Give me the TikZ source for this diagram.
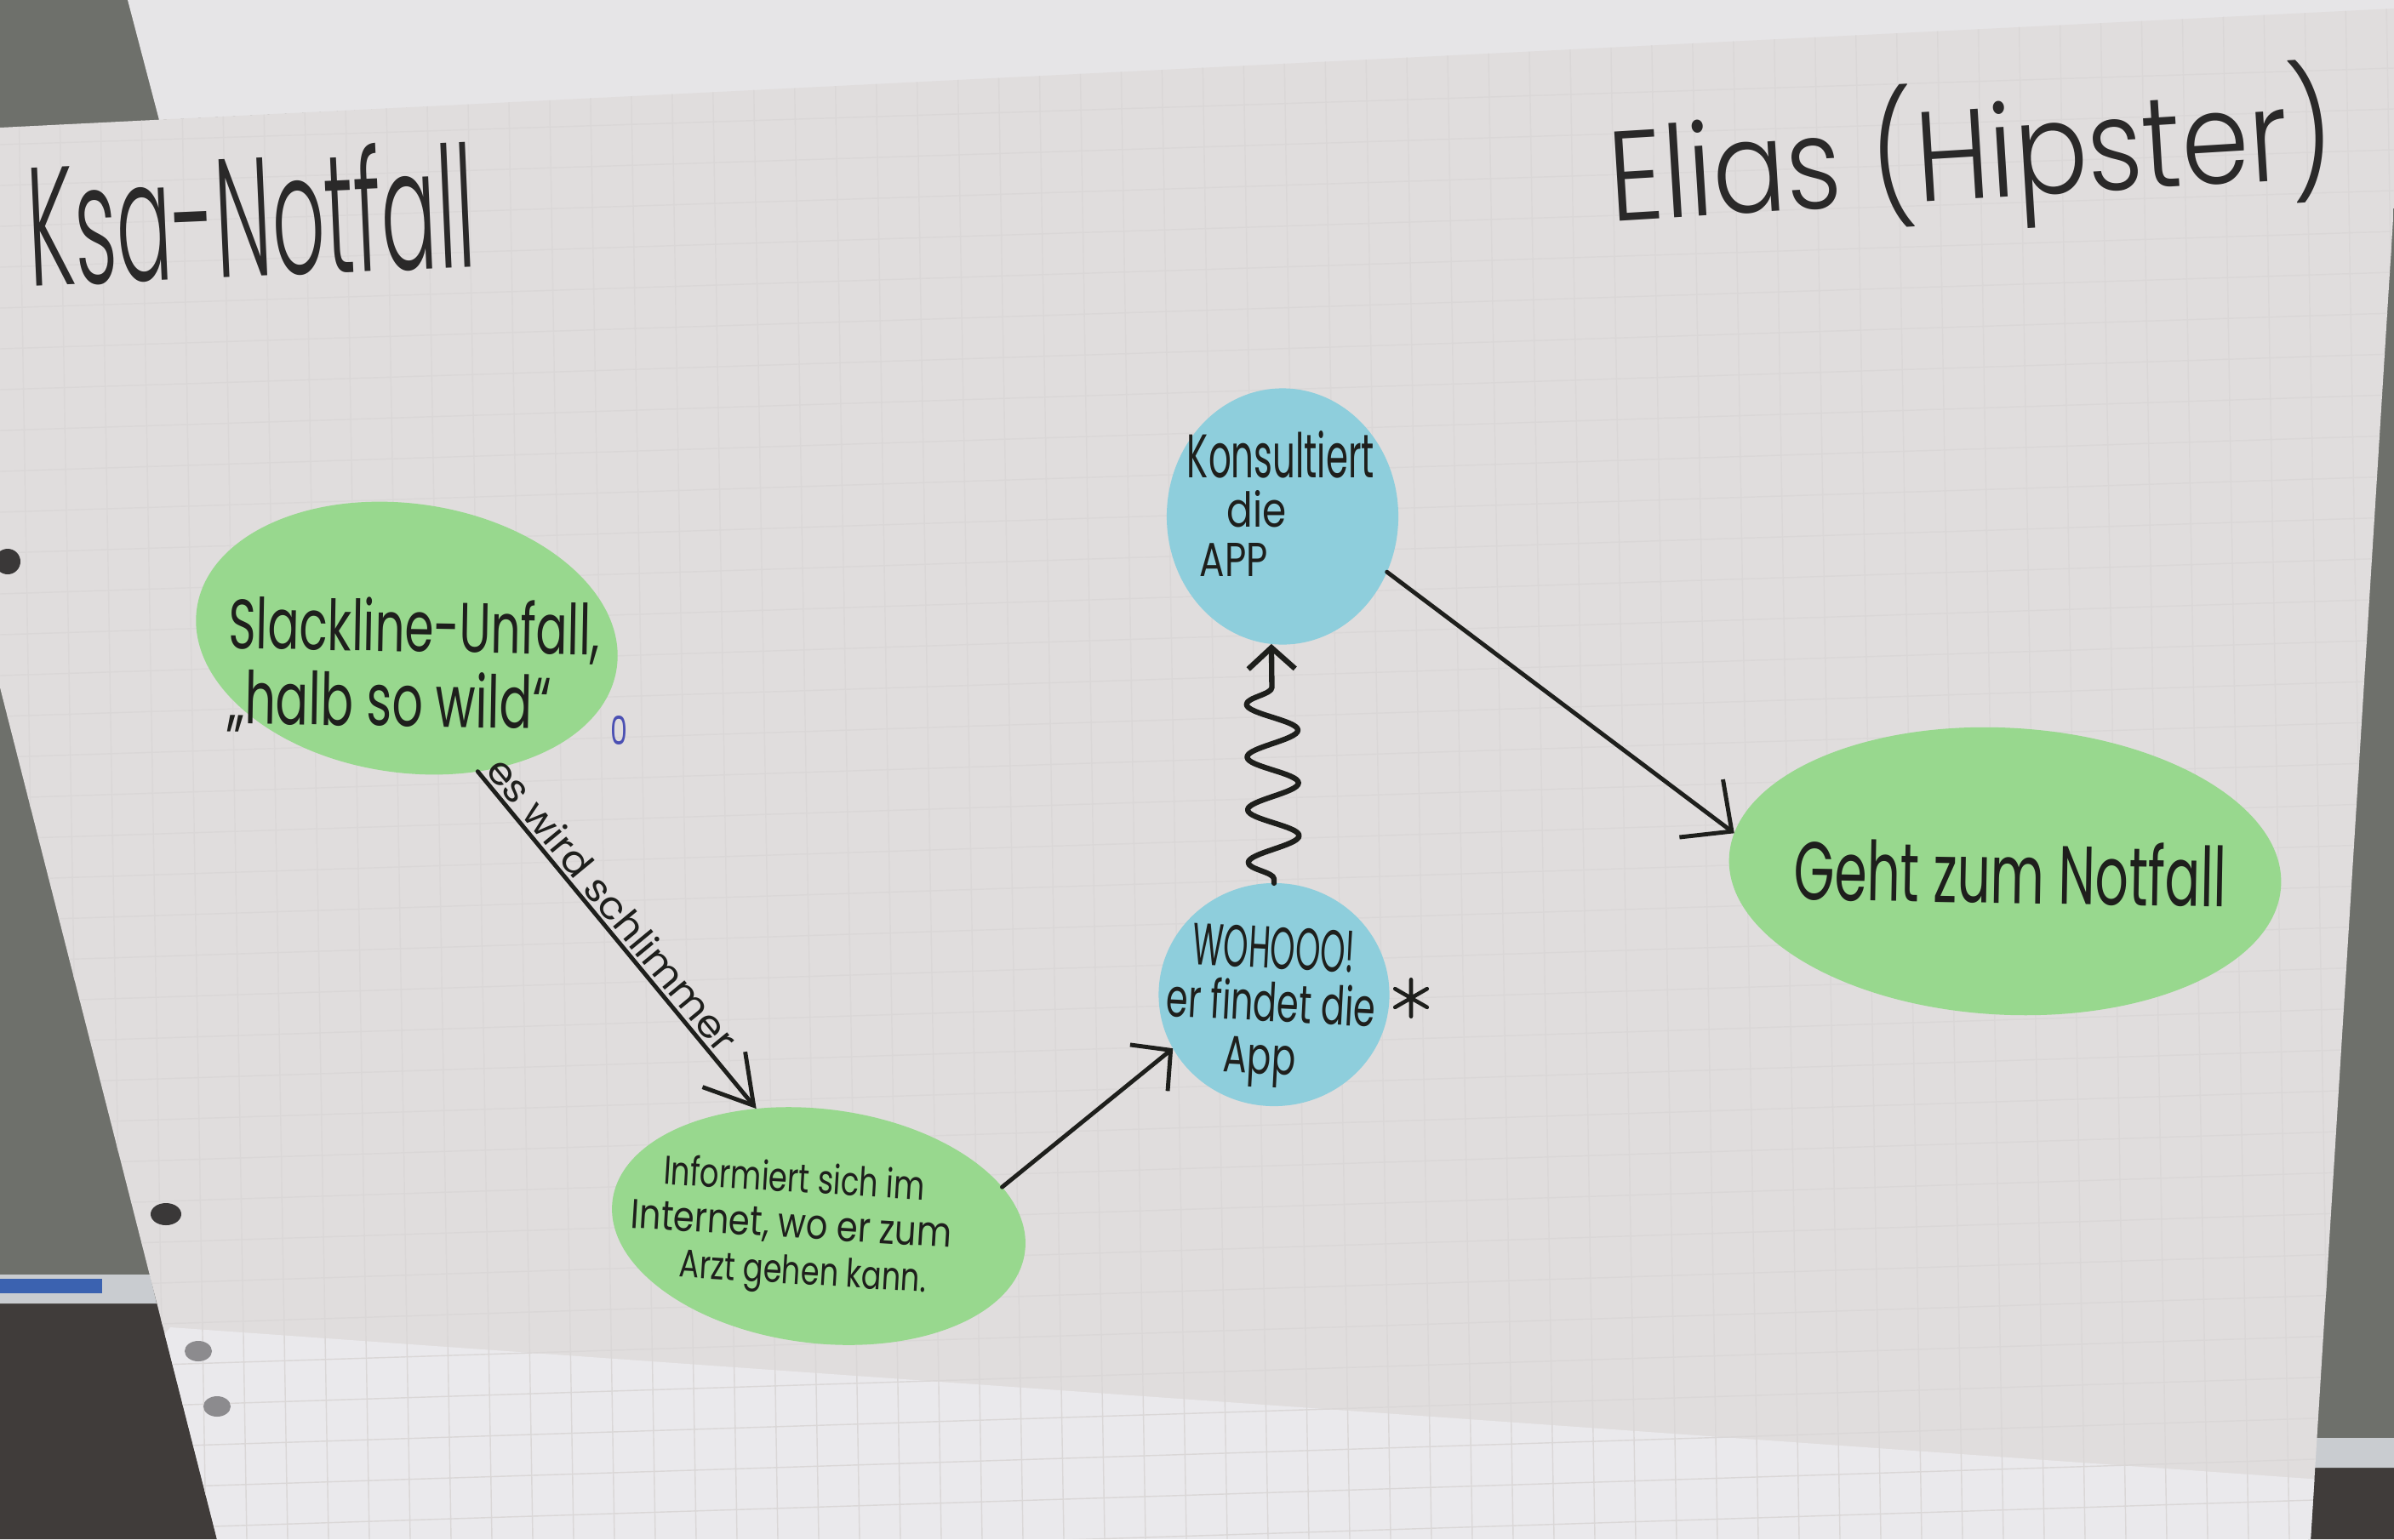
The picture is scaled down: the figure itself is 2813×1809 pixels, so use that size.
\documentclass[tikz,border=0pt]{standalone}
\usepackage{fontspec}
\setmainfont{Poppins}
\IfFontExistsTF{Poppins Light}{\newfontfamily\titlefont{Poppins Light}}{%
  \IfFontExistsTF{Lato Light}{\newfontfamily\titlefont{Lato Light}}{\newfontfamily\titlefont{Carlito}}}
\usepackage{graphicx}
\usetikzlibrary{arrows.meta,decorations.pathmorphing,shapes.geometric}

\definecolor{board}{HTML}{6E706B}
\definecolor{floorc}{HTML}{403C3A}
\definecolor{trayc}{HTML}{C9CCD0}
\definecolor{markerblue}{HTML}{3B62B0}
\definecolor{sheetc}{HTML}{E6E5E7}
\definecolor{paper}{HTML}{E0DDDD}
\definecolor{paperlow}{HTML}{EAE9EC}
\definecolor{gridc}{HTML}{DAD7D7}
\definecolor{holedark}{HTML}{3A3838}
\definecolor{holegrey}{HTML}{8C8B8E}
\definecolor{stickgreen}{RGB}{152,216,142}
\definecolor{stickblue}{RGB}{142,206,220}
\definecolor{ink}{HTML}{1E1F1C}
\definecolor{pencil}{HTML}{2A2929}
\definecolor{blueink}{HTML}{4B50B3}

\newcommand{\hwline}[3]{\resizebox{#1cm}{#2cm}{#3}}
\newcommand{\hwspacing}[1]{\fontsize{10pt}{#1cm}\selectfont\lineskiplimit=-100pt\relax}

\begin{document}
\begin{tikzpicture}[x=0.01cm,y=-0.01cm,
  sticker/.style={ellipse, draw=none, inner sep=0pt, outer sep=0pt},
  greenst/.style={sticker, fill=stickgreen},
  bluest/.style={sticker, fill=stickblue},
  stickertext/.style={text=ink, inner sep=0pt, outer sep=0pt},
  titletext/.style={text=pencil, inner sep=0pt, font=\titlefont},
  conn/.style={draw=ink, line width=1.4pt, line cap=round, line join=round},
  wavy/.style={conn, line width=1.8pt, decorate,
     decoration={snake, amplitude=0.3cm, segment length=0.62cm, pre length=0.05cm, post length=0.3cm}},
  gridline/.style={draw=gridc, line width=0.4pt},
]
\useasboundingbox (0,0) rectangle (2813,1809);

% ---- board and sheets ----
\fill[board] (0,0) rectangle (2813,1809);
\fill[floorc] (0,1530) -- (190,1530) -- (255,1809) -- (0,1809) -- cycle;
\fill[trayc] (0,1498) -- (176,1498) -- (184,1532) -- (0,1532) -- cycle;
\fill[markerblue] (0,1503) rectangle (120,1520);
\fill[floorc] (2716,1725) -- (2813,1725) -- (2813,1809) -- (2712,1809) -- cycle;
\fill[trayc] (2718,1690) -- (2813,1690) -- (2813,1725) -- (2716,1725) -- cycle;
\fill[sheetc] (150,0) -- (2813,0) -- (2813,12) -- (187,141) -- cycle;

\begin{scope}
  \clip (0,150) -- (2813,10) -- (2813,240) -- (2715,1809) -- (255,1809) -- (0,808) -- cycle;
  \fill[paper] (0,0) rectangle (2813,1809);
  \fill[paperlow] (200,1560) -- (2813,1745) -- (2813,1809) -- (0,1809) -- cycle;
  \foreach \gx in {20,68,...,2813} \draw[gridline] (\gx,0) -- (\gx+30,1809);
  \foreach \gy in {170,218,...,1850} \draw[gridline] (0,\gy) -- (2813,\gy-90);
\end{scope}

\fill[holedark] (9,660) circle (0.15cm);
\fill[holedark] (195,1427) ellipse (0.18cm and 0.13cm);
\fill[holegrey] (233,1588) ellipse (0.16cm and 0.12cm);
\fill[holegrey] (255,1653) ellipse (0.16cm and 0.12cm);

% ---- titles ----
\node[titletext, anchor=base, rotate=2.5] (ksa) at (298,325) {\hwline{5.26}{1.50}{Ksa-Notfall}};
\node[titletext, anchor=base, rotate=3.5] (elias) at (2319,234) {\hwline{8.52}{1.40}{Elias (Hipster)}};

% ---- stickers ----
\node[greenst, minimum width=4.98cm, minimum height=3.16cm, rotate=-8,
  label={[stickertext, align=left, font=\hwspacing{0.88}, rotate=-1, shift={(9,33)}]center:{\hwline{4.36}{0.63}{Slackline-Unfall,}\\\hwline{3.80}{0.65}{„halb so wild“}}}]
  (slack) at (478,750) {};

\node[greenst, minimum width=4.88cm, minimum height=2.75cm, rotate=-7,
  label={[stickertext, align=center, font=\hwspacing{0.54}, rotate=-3.5, shift={(-32,4)}]center:{\hwline{3.07}{0.36}{Informiert sich im}\\\hwline{3.77}{0.34}{Internet, wo er zum}\\\rule{0.34cm}{0pt}\hwline{2.90}{0.34}{Arzt gehen kann.}}}]
  (inform) at (962,1441) {};

\node[bluest, minimum width=2.71cm, minimum height=2.62cm,
  label={[stickertext, align=center, font=\hwspacing{0.62}, rotate=-3, shift={(-3,15)}]center:{\hwline{1.90}{0.49}{WOHOOO!}\\\hwline{2.46}{0.48}{er findet die}\\\hwline{0.85}{0.42}{App}\rule{0.2cm}{0pt}}}]
  (wohooo) at (1497,1169) {};

\node[bluest, minimum width=2.72cm, minimum height=3.01cm,
  label={[stickertext, align=center, font=\hwspacing{0.575}, shift={(-2,-15)}]center:{\hwline{2.20}{0.55}{Konsultiert}\\\hwline{0.70}{0.43}{die}\rule{0.56cm}{0pt}\\\hwline{0.80}{0.39}{APP}\rule{1.10cm}{0pt}}}]
  (konsult) at (1507,607) {};

\node[greenst, minimum width=6.49cm, minimum height=3.37cm, rotate=-3,
  label={[stickertext, rotate=-1, shift={(6,1)}]center:{\hwline{5.08}{0.74}{Geht zum Notfall}}}]
  (geht) at (2356,1024) {};

% ---- marks ----
\node[text=blueink, inner sep=0pt] (mark) at (727,858) {\hwline{0.20}{0.34}{0}};
\node[circle, inner sep=0pt, minimum size=0.42cm] (star) at (1658,1173) {};
\draw[ink, line width=1.3pt, line cap=round] (star.90) -- (star.270) (star.30) -- (star.210) (star.150) -- (star.330);

% ---- connectors ----
\draw[conn, -{Straight Barb[length=0.55cm, width=0.65cm]}] (slack.-54) --
  node[stickertext, pos=0.43, sloped, above, inner sep=0.06cm] (worse) {\hwline{4.33}{0.34}{es wird schlimmer}} (inform.125);
\draw[conn, -{Straight Barb[length=0.33cm, width=0.7cm]}] (inform.19) -- (wohooo.208);
\draw[wavy, -{Straight Barb[length=0.25cm, width=0.55cm]}] (wohooo.north) -- (konsult.-95);
\draw[conn, -{Straight Barb[length=0.45cm, width=0.85cm]}] (konsult.-28) -- (geht.175);
\end{tikzpicture}
\end{document}
